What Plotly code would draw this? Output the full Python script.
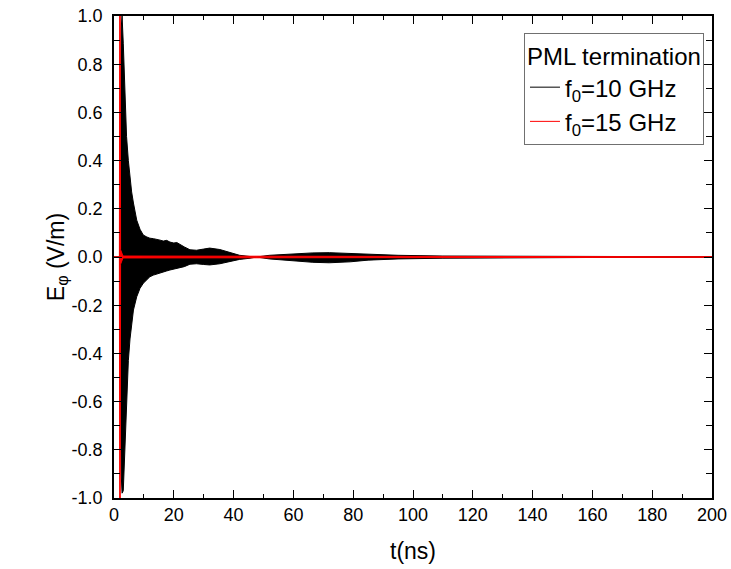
import plotly.graph_objects as go

# ---------------------------------------------------------
# Data: envelopes of the time-domain field
# ---------------------------------------------------------

# f0 = 10 GHz (black), upper and lower envelope of the oscillation
t_10 = [0, 1.9, 2.4, 2.7, 3.1, 3.7, 4.2, 4.8, 5.35, 5.9, 6.5, 7.6, 8.7, 9.8,
        11, 12, 13.2, 14.3, 15.4, 16.5, 17.6, 18.7, 20, 21, 22, 23.5, 25.4,
        27.6, 30, 32, 35.4, 38.8, 42, 45.5, 47.7, 52, 57, 62, 66.5, 72, 79,
        85, 95, 110, 130, 160, 200]
upper_10 = [0, 0, 0.95, 1.0, 0.887, 0.68, 0.50, 0.40, 0.333, 0.27, 0.224,
            0.153, 0.115, 0.091, 0.083, 0.078, 0.076, 0.074, 0.07, 0.066,
            0.069, 0.062, 0.058, 0.06, 0.054, 0.042, 0.030, 0.028, 0.033,
            0.037, 0.031, 0.019, 0.007, 0.002, 0.0, 0.007, 0.011, 0.014,
            0.017, 0.018, 0.015, 0.011, 0.007, 0.004, 0.003, 0.002, 0.001]
lower_10 = [0, 0, -0.90, -0.98, -0.97, -0.80, -0.59, -0.43, -0.34, -0.275,
            -0.22, -0.165, -0.13, -0.109, -0.092, -0.082, -0.075, -0.07,
            -0.068, -0.063, -0.058, -0.054, -0.05, -0.049, -0.047, -0.04,
            -0.030, -0.028, -0.031, -0.033, -0.028, -0.019, -0.01, -0.005,
            0.0, -0.008, -0.013, -0.017, -0.022, -0.024, -0.02, -0.013,
            -0.008, -0.005, -0.003, -0.002, -0.001]

# f0 = 15 GHz (red), a short spike near t = 2 ns then flat
t_15 = [0, 1.8, 1.9, 2.1, 2.2, 3.0, 200]
upper_15 = [0, 0, 1.0, 1.0, 0.03, 0.004, 0.001]
lower_15 = [0, 0, -1.0, -1.0, -0.03, -0.004, -0.001]

X_TICKS = [0, 20, 40, 60, 80, 100, 120, 140, 160, 180, 200]
Y_TICKS = [-1.0, -0.8, -0.6, -0.4, -0.2, 0.0, 0.2, 0.4, 0.6, 0.8, 1.0]
Y_TICK_LABELS = ["-1.0", "-0.8", "-0.6", "-0.4", "-0.2", "0.0",
                 "0.2", "0.4", "0.6", "0.8", "1.0"]

FONT = "Arial, Liberation Sans, sans-serif"

# ---------------------------------------------------------
# Figure
# ---------------------------------------------------------

fig = go.Figure()

fig.add_trace(go.Scatter(
    x=t_10, y=upper_10, mode="lines", name="f<sub>0</sub>=10 GHz",
    line=dict(color="black", width=1), legendgroup="f10"
))
fig.add_trace(go.Scatter(
    x=t_10, y=lower_10, mode="lines", showlegend=False,
    line=dict(color="black", width=1), fill="tonexty",
    fillcolor="black", legendgroup="f10"
))
fig.add_trace(go.Scatter(
    x=t_15, y=upper_15, mode="lines", name="f<sub>0</sub>=15 GHz",
    line=dict(color="#ff0000", width=1), legendgroup="f15"
))
fig.add_trace(go.Scatter(
    x=t_15, y=lower_15, mode="lines", showlegend=False,
    line=dict(color="#ff0000", width=1), fill="tonexty",
    fillcolor="#ff0000", legendgroup="f15"
))

axis_common = dict(
    showline=True, linecolor="black", linewidth=1.5, mirror="ticks",
    ticks="inside", ticklen=8, tickwidth=1.3, tickcolor="black",
    showgrid=False, zeroline=False, automargin=False,
    ticklabeloverflow="allow",
    tickfont=dict(family=FONT, size=18, color="black"),
)

fig.update_xaxes(
    **axis_common,
    range=[0, 200], tickvals=X_TICKS,
    minor=dict(dtick=10, ticks="inside", ticklen=4, tickcolor="black", showgrid=False),
    title=dict(text="t(ns)", font=dict(family=FONT, size=23, color="black"), standoff=19),
)
fig.update_yaxes(
    **axis_common,
    range=[-1.0, 1.0], tickvals=Y_TICKS, ticktext=Y_TICK_LABELS,
    minor=dict(dtick=0.1, ticks="inside", ticklen=6, tickcolor="black", showgrid=False),
    ticklabelstandoff=6,
    title=dict(text="E<sub>φ</sub> (V/m)", font=dict(family=FONT, size=23, color="black"), standoff=1),
)

fig.update_layout(
    width=731, height=569,
    template="plotly_white",
    plot_bgcolor="white", paper_bgcolor="white",
    margin=dict(l=114, r=19, t=16, b=71, autoexpand=False),
    font=dict(family=FONT, color="black"),
    legend=dict(
        x=0.9866, y=0.965, xanchor="right", yanchor="top",
        title=dict(text="PML termination", font=dict(family=FONT, size=24)),
        font=dict(family=FONT, size=24),
        bordercolor="#707070", borderwidth=1, bgcolor="white",
        tracegroupgap=0,
    ),
)

# drop the page's default body margin so the figure fills the window exactly
fig.write_html(
    "out.html",
    config={"displayModeBar": False},
    post_script="document.body.style.margin = '0';",
)
